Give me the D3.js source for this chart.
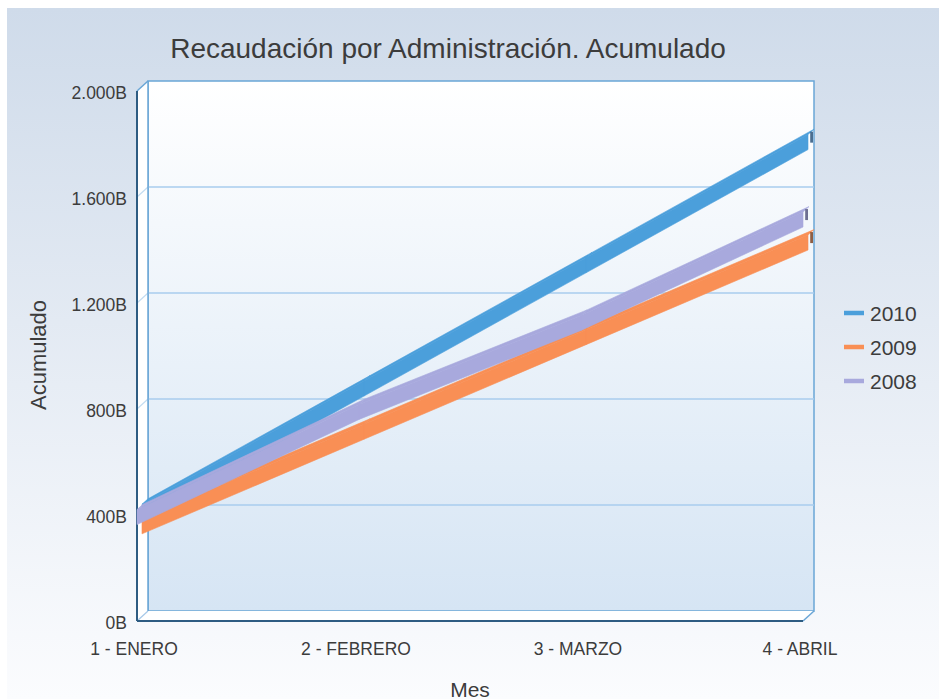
<!DOCTYPE html>
<html>
<head>
<meta charset="utf-8">
<script src="https://cdn.jsdelivr.net/npm/d3@7"></script>
<style>
  body { margin: 0; background: #ffffff; }
  svg { display: block; }
</style>
</head>
<body>
<svg id="chart"></svg>
<script>
// valores (en millones, B = miles de millones en la etiqueta)
var meses = ["1 - ENERO", "2 - FEBRERO", "3 - MARZO", "4 - ABRIL"];
var anios = ["2010", "2009", "2008"];
var serie2010 = [395, 860, 1325, 1790];
var serie2009 = [340, 697, 1054, 1411];
var serie2008 = [392, 789, 1125, 1515];
var yTicks = [0, 400, 800, 1200, 1600, 2000];
var yTickLabels = ["0B", "400B", "800B", "1.200B", "1.600B", "2.000B"];
var colores = ["#4b9fdb", "#f98f55", "#a8a9dd"];
var coloresTapa = ["#2c557c", "#7e4322", "#55567e"];

const WIDTH = 939;
const HEIGHT = 699;
const DX = 11;   // profundidad 3D
const DY = 10;

window.onload = function() {
    setupVis();
};

function setupVis() {
    var svg = d3.select("#chart")
        .attr("width", WIDTH)
        .attr("height", HEIGHT);

    var defs = svg.append("defs");
    var fondo = defs.append("linearGradient").attr("id", "fondo")
        .attr("x1", 0).attr("y1", 0).attr("x2", 0).attr("y2", 1);
    fondo.append("stop").attr("offset", "0%").attr("stop-color", "#cfdbea");
    fondo.append("stop").attr("offset", "100%").attr("stop-color", "#fbfcfe");

    var pared = defs.append("linearGradient").attr("id", "pared")
        .attr("x1", 0).attr("y1", 0).attr("x2", 0).attr("y2", 1);
    pared.append("stop").attr("offset", "0%").attr("stop-color", "#ffffff");
    pared.append("stop").attr("offset", "100%").attr("stop-color", "#d6e5f4");

    svg.append("rect")
        .attr("x", 7).attr("y", 8)
        .attr("width", WIDTH - 7).attr("height", HEIGHT - 8)
        .style("fill", "url(#fondo)");

    var x = d3.scalePoint().domain(meses).range([137, 803]);
    var y = d3.scaleLinear().domain([0, 2000]).range([621, 91]);

    var x0 = x.range()[0], x1 = x.range()[1];
    var yBot = y(0), yTop = y(2000);

    // pared del fondo
    svg.append("rect")
        .attr("x", x0 + DX).attr("y", yTop - DY)
        .attr("width", x1 - x0).attr("height", yBot - yTop)
        .style("fill", "url(#pared)")
        .style("stroke", "#6aa6d6")
        .style("stroke-width", 1.5);

    // pared izquierda y suelo
    svg.append("polygon")
        .attr("points", [[x0, yTop], [x0 + DX, yTop - DY], [x0 + DX, yBot - DY], [x0, yBot]].join(" "))
        .style("fill", "#ffffff");
    svg.append("polygon")
        .attr("points", [[x0, yBot], [x0 + DX, yBot - DY], [x1 + DX, yBot - DY], [x1, yBot]].join(" "))
        .style("fill", "#ffffff");

    // lineas de division
    var grid = yTicks.filter(function(d) { return d > 0 && d < 2000; });
    svg.selectAll("line.grid")
        .data(grid)
        .enter()
        .append("line")
        .attr("class", "grid")
        .attr("x1", x0 + DX).attr("x2", x1 + DX)
        .attr("y1", function(d) { return y(d) - DY; })
        .attr("y2", function(d) { return y(d) - DY; })
        .style("stroke", "#a8cdee")
        .style("stroke-width", 1.5);
    svg.selectAll("line.gridlado")
        .data(grid)
        .enter()
        .append("line")
        .attr("class", "gridlado")
        .attr("x1", x0).attr("x2", x0 + DX)
        .attr("y1", function(d) { return y(d); })
        .attr("y2", function(d) { return y(d) - DY; })
        .style("stroke", "#c3dcf1")
        .style("stroke-width", 1.2);

    // bordes del cubo
    svg.append("line")
        .attr("x1", x0 + DX).attr("y1", yTop - DY).attr("x2", x0 + DX).attr("y2", yBot - DY)
        .style("stroke", "#6aa6d6").style("stroke-width", 1.5);
    svg.append("line")
        .attr("x1", x0).attr("y1", yTop).attr("x2", x0 + DX).attr("y2", yTop - DY)
        .style("stroke", "#6aa6d6").style("stroke-width", 1.5);
    svg.append("line")
        .attr("x1", x0).attr("y1", yBot).attr("x2", x0 + DX).attr("y2", yBot - DY)
        .style("stroke", "#a6c8e8").style("stroke-width", 1.2);
    svg.append("line")
        .attr("x1", x1).attr("y1", yBot).attr("x2", x1 + DX).attr("y2", yBot - DY)
        .style("stroke", "#6aa6d6").style("stroke-width", 1.5);
    svg.append("line")
        .attr("x1", x0).attr("y1", yTop).attr("x2", x0).attr("y2", yBot)
        .style("stroke", "#2e5c82").style("stroke-width", 2);
    svg.append("line")
        .attr("x1", x0).attr("y1", yBot).attr("x2", x1).attr("y2", yBot)
        .style("stroke", "#2e5c82").style("stroke-width", 2);

    // series como cintas 3D
    var series = [serie2010, serie2009, serie2008];
    var prof = [[5, 11], [5, 11], [0, 6]];  // profundidad de cada cinta
    var h = 7.5;

    function proj(i, v, z) {
        return [x(meses[i]) + z, y(v) - z * DY / DX];
    }

    series.forEach(function(vals, s) {
        var g = svg.append("g");
        var za = prof[s][0], zb = prof[s][1];
        var segs = d3.range(vals.length - 1);

        // cara superior
        g.selectAll("polygon.top")
            .data(segs)
            .enter()
            .append("polygon")
            .attr("points", function(i) {
                var a = proj(i, vals[i], za), b = proj(i + 1, vals[i + 1], za);
                var c = proj(i + 1, vals[i + 1], zb), d = proj(i, vals[i], zb);
                return [[a[0], a[1] - h], [b[0], b[1] - h], [c[0], c[1] - h], [d[0], d[1] - h]].join(" ");
            })
            .style("fill", colores[s])
            .style("stroke", colores[s])
            .style("stroke-width", 0.6);

        // cara frontal
        g.selectAll("polygon.front")
            .data(segs)
            .enter()
            .append("polygon")
            .attr("points", function(i) {
                var a = proj(i, vals[i], za), b = proj(i + 1, vals[i + 1], za);
                return [[a[0], a[1] - h], [b[0], b[1] - h], [b[0], b[1] + h], [a[0], a[1] + h]].join(" ");
            })
            .style("fill", colores[s])
            .style("stroke", colores[s])
            .style("stroke-width", 0.6);

        // tapa del extremo derecho
        var n = vals.length - 1;
        var e = proj(n, vals[n], zb);
        g.append("rect")
            .attr("x", e[0] - 3.8)
            .attr("y", e[1] - h + 2.5)
            .attr("width", 2.8)
            .attr("height", 2 * h - 4)
            .style("fill", coloresTapa[s])
            .style("opacity", 0.85);
    });

    // etiquetas del eje Y
    svg.selectAll("text.ytick")
        .data(yTicks)
        .enter()
        .append("text")
        .attr("class", "ytick")
        .text(function(d, i) { return yTickLabels[i]; })
        .attr("x", 127)
        .attr("y", function(d) { return y(d) + 2; })
        .attr("font-family", "Liberation Sans, Arial, sans-serif")
        .attr("font-size", "17.5px")
        .attr("fill", "#3c3c3c")
        .style("text-anchor", "end")
        .style("dominant-baseline", "central");

    // etiquetas del eje X
    svg.selectAll("text.xtick")
        .data(meses)
        .enter()
        .append("text")
        .attr("class", "xtick")
        .text(function(d) { return d; })
        .attr("x", function(d) { return x(d) - 3; })
        .attr("y", 649)
        .attr("font-family", "Liberation Sans, Arial, sans-serif")
        .attr("font-size", "17.5px")
        .attr("fill", "#3c3c3c")
        .style("text-anchor", "middle")
        .style("dominant-baseline", "central");

    // titulos
    svg.append("text")
        .text("Recaudación por Administración. Acumulado")
        .attr("x", 448)
        .attr("y", 48)
        .attr("font-family", "Liberation Sans, Arial, sans-serif")
        .attr("font-size", "28px")
        .attr("fill", "#3c3c3c")
        .style("text-anchor", "middle")
        .style("dominant-baseline", "central");

    svg.append("text")
        .text("Mes")
        .attr("x", 470)
        .attr("y", 689)
        .attr("font-family", "Liberation Sans, Arial, sans-serif")
        .attr("font-size", "21px")
        .attr("fill", "#3c3c3c")
        .style("text-anchor", "middle")
        .style("dominant-baseline", "central");

    svg.append("text")
        .text("Acumulado")
        .attr("transform", "translate(38,355) rotate(-90)")
        .attr("font-family", "Liberation Sans, Arial, sans-serif")
        .attr("font-size", "22px")
        .attr("fill", "#3c3c3c")
        .style("text-anchor", "middle")
        .style("dominant-baseline", "central");

    // leyenda
    var leyenda = svg.selectAll("g.ley")
        .data(anios)
        .enter()
        .append("g")
        .attr("class", "ley")
        .attr("transform", function(d, i) { return "translate(844," + (313 + i * 34) + ")"; });
    leyenda.append("line")
        .attr("x1", 0).attr("x2", 20)
        .attr("y1", 0).attr("y2", 0)
        .style("stroke", function(d, i) { return colores[i]; })
        .style("stroke-width", 4.5);
    leyenda.append("text")
        .text(function(d) { return d; })
        .attr("x", 26)
        .attr("y", 0)
        .attr("font-family", "Liberation Sans, Arial, sans-serif")
        .attr("font-size", "21px")
        .attr("fill", "#3c3c3c")
        .style("dominant-baseline", "central");
}
</script>
</body>
</html>
